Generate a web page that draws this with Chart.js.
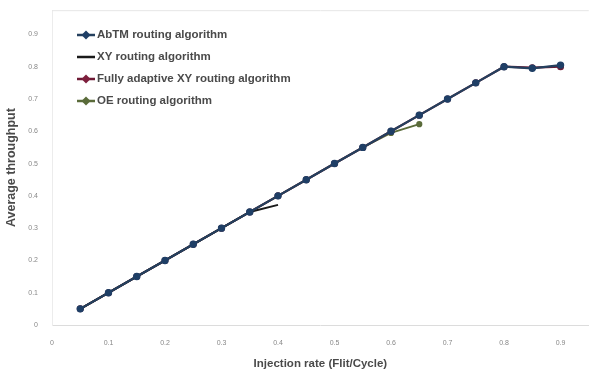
<!DOCTYPE html>
<html>
<head>
<meta charset="utf-8">
<script src="https://cdn.jsdelivr.net/npm/chart.js@4/dist/chart.umd.min.js"></script>
<style>
  html, body { margin: 0; padding: 0; background: #fff; }
  #wrap { width: 595px; height: 375px; position: relative; }
</style>
</head>
<body>
<div id="wrap"><canvas id="chart"></canvas></div>
<script>
// injection rates (x)
const rates = [0.05, 0.1, 0.15, 0.2, 0.25, 0.3, 0.35, 0.4, 0.45, 0.5, 0.55, 0.6, 0.65, 0.7, 0.75, 0.8, 0.85, 0.9];

// average throughput per algorithm
const abtm = [0.05, 0.1, 0.15, 0.2, 0.25, 0.3, 0.35, 0.4, 0.45, 0.5, 0.55, 0.6, 0.65, 0.7, 0.75, 0.8, 0.795, 0.805];
const xy = [0.05, 0.1, 0.15, 0.2, 0.25, 0.3, 0.35, 0.372];
const fullyXY = [0.05, 0.1, 0.15, 0.2, 0.25, 0.3, 0.35, 0.4, 0.45, 0.5, 0.55, 0.6, 0.65, 0.7, 0.75, 0.8, 0.797, 0.8];
const oe = [0.05, 0.1, 0.15, 0.2, 0.25, 0.3, 0.35, 0.4, 0.45, 0.5, 0.55, 0.595, 0.622];

const seriesNames = ['AbTM routing algorithm', 'XY routing algorithm', 'Fully adaptive XY routing algorithm', 'OE routing algorithm'];
const xTicks = [0, 0.1, 0.2, 0.3, 0.4, 0.5, 0.6, 0.7, 0.8, 0.9];
const yTicks = [0, 0.1, 0.2, 0.3, 0.4, 0.5, 0.6, 0.7, 0.8, 0.9];

function pts(vals) {
    return vals.map((v, i) => ({ x: rates[i], y: v }));
}

// legend drawn inside the plot, top left
const innerLegend = {
    id: 'innerLegend',
    afterDraw(chart) {
        const ctx = chart.ctx;
        ctx.save();
        ctx.font = 'bold 11.5px "Liberation Sans", Arial, sans-serif';
        ctx.textBaseline = 'middle';
        chart.data.datasets.forEach((ds, i) => {
            let y = 35 + i * 22;
            ctx.strokeStyle = ds.borderColor;
            ctx.lineWidth = 2.5;
            ctx.beginPath();
            ctx.moveTo(77, y);
            ctx.lineTo(95, y);
            ctx.stroke();
            if (ds.pointRadius > 0) {
                ctx.fillStyle = ds.pointBackgroundColor;
                ctx.beginPath();
                ctx.moveTo(86, y - 4.5);
                ctx.lineTo(90.5, y);
                ctx.lineTo(86, y + 4.5);
                ctx.lineTo(81.5, y);
                ctx.closePath();
                ctx.fill();
            }
            ctx.fillStyle = '#4a4a4a';
            ctx.fillText(ds.label, 97, y);
        });
        ctx.restore();
    }
};

// light frame around plot area
const frame = {
    id: 'frame',
    beforeDatasetsDraw(chart) {
        const a = chart.chartArea;
        const ctx = chart.ctx;
        ctx.save();
        ctx.strokeStyle = '#e6e6e6';
        ctx.lineWidth = 1;
        ctx.beginPath();
        ctx.moveTo(a.left, a.top + 0.5);
        ctx.lineTo(a.right, a.top + 0.5);
        ctx.stroke();
        ctx.restore();
    }
};

let ctx = document.getElementById('chart').getContext('2d');
let chart = new Chart(ctx, {
    type: 'line',
    data: {
        datasets: [{
            label: seriesNames[0],
            data: pts(abtm),
            borderColor: '#25405e',
            backgroundColor: '#245a8c',
            pointBackgroundColor: '#1f3f66',
            pointBorderColor: '#1f3f66',
            borderWidth: 2.2,
            pointStyle: 'circle',
            pointRadius: 2.6
        }, {
            label: seriesNames[1],
            data: pts(xy),
            borderColor: '#1a1a1a',
            backgroundColor: '#1a1a1a',
            borderWidth: 2,
            pointRadius: 0
        }, {
            label: seriesNames[2],
            data: pts(fullyXY),
            borderColor: '#6e1a35',
            backgroundColor: '#7d1f3d',
            pointBackgroundColor: '#7d1f3d',
            borderWidth: 2.2,
            pointStyle: 'circle',
            pointRadius: 2.4
        }, {
            label: seriesNames[3],
            data: pts(oe),
            borderColor: '#5a6b3a',
            backgroundColor: '#5a6b3a',
            pointBackgroundColor: '#5a6b3a',
            borderWidth: 1.8,
            pointStyle: 'circle',
            pointRadius: 2.2
        }]
    },
    options: {
        responsive: true,
        maintainAspectRatio: false,
        animation: false,
        layout: { padding: { top: 9, right: 2, left: 0, bottom: 0 } },
        plugins: {
            legend: { display: false },
            tooltip: { enabled: false }
        },
        scales: {
            x: {
                type: 'linear',
                min: 0,
                max: 0.95,
                afterBuildTicks: (s) => { s.ticks = xTicks.map(v => ({ value: v })); },
                afterFit: (s) => { s.height = 50; },
                grid: { display: false, drawTicks: true },
                border: { color: '#dcdcdc' },
                ticks: { color: '#888', font: { size: 7 }, padding: 6, callback: (v) => v === 0 ? '0' : v.toFixed(1) },
                title: {
                    display: true,
                    text: 'Injection rate (Flit/Cycle)',
                    color: '#4a4a4a',
                    font: { size: 11.5, weight: 'bold', family: '"Liberation Sans", Arial, sans-serif' },
                    padding: { top: 13 }
                }
            },
            y: {
                min: 0,
                max: 0.975,
                afterBuildTicks: (s) => { s.ticks = yTicks.map(v => ({ value: v })); },
                afterFit: (s) => { s.width = 52; },
                grid: { display: false },
                border: { color: '#ececec' },
                ticks: { color: '#888', font: { size: 7 }, padding: 6, callback: (v) => v === 0 ? '0' : v.toFixed(1) },
                title: {
                    display: true,
                    text: 'Average throughput',
                    color: '#4a4a4a',
                    font: { size: 12.5, weight: 'bold', family: '"Liberation Sans", Arial, sans-serif' },
                    padding: { bottom: 0 }
                }
            }
        }
    },
    plugins: [frame, innerLegend]
});
</script>
</body>
</html>
